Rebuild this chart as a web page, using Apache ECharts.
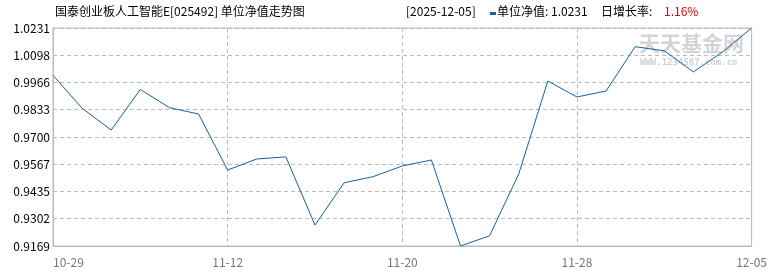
<!DOCTYPE html>
<html><head><meta charset="utf-8">
<script src="https://cdn.jsdelivr.net/npm/echarts@6/dist/echarts.min.js"></script>
<style>html,body{margin:0;padding:0;background:#fff}#c{width:770px;height:270px}</style>
</head><body><div id="c"></div>
<script>
var dates = ['10-29','11-05','11-06','11-07','11-10','11-11','11-12','11-13','11-14','11-17','11-18','11-19','11-20','11-21','11-24','11-25','11-26','11-27','11-28','11-30','12-01','12-02','12-03','12-04','12-05'];
var navs = [1.0000,0.9840,0.9734,0.9932,0.9843,0.9812,0.9539,0.9593,0.9603,0.9271,0.9477,0.9507,0.9559,0.9588,0.9169,0.9219,0.9520,0.9973,0.9895,0.9924,1.0140,1.0120,1.0017,1.0114,1.0231];
var yTicks = [0.9169,0.9302,0.9435,0.9567,0.9700,0.9833,0.9966,1.0098,1.0231];
var titleText = '国泰创业板人工智能E[025492] 单位净值走势图';
var dateText = '[2025-12-05]';
var navText = '单位净值: 1.0231';
var rateLabel = '日增长率:';
var rateText = '1.16%';

var F = '"Noto Sans CJK SC", "DejaVu Sans", sans-serif';
var chart = echarts.init(document.getElementById('c'));
chart.setOption({
  animation: false,
  grid: {left: 53, right: 12, top: 28, bottom: 24, show: true, borderColor: '#bbbbbb', borderWidth: 1},
  xAxis: {
    type: 'category', data: dates, boundaryGap: false,
    axisLine: {lineStyle: {color: '#bbbbbb'}},
    axisTick: {show: false},
    axisLabel: {interval: 5, color: '#777777', fontSize: 12, fontFamily: F, margin: 10,
      alignMinLabel: 'left', alignMaxLabel: 'center'},
    splitLine: {show: true, interval: 5, lineStyle: {color: '#bbbbbb', type: [4, 3]}}
  },
  yAxis: {
    type: 'value', min: yTicks[0], max: yTicks[yTicks.length - 1],
    axisLine: {show: true, lineStyle: {color: '#bbbbbb'}},
    axisTick: {show: false, customValues: yTicks},
    axisLabel: {customValues: yTicks, color: '#000000', fontSize: 12, fontFamily: F, margin: 3,
      formatter: function (v) { return v.toFixed(4); }},
    splitLine: {show: true, lineStyle: {color: '#bbbbbb', type: [4, 3]}}
  },
  series: [{
    type: 'line', data: navs, showSymbol: false, symbol: 'none',
    lineStyle: {color: '#1560ad', width: 1}
  }],
  graphic: [
    {type: 'text', left: 55, top: 5, style: {text: titleText, fill: '#000', font: '12px ' + F}},
    {type: 'text', left: 406, top: 5, style: {text: dateText, fill: '#000', font: '12px ' + F}},
    {type: 'rect', shape: {x: 490, y: 12, width: 6, height: 3}, style: {fill: '#1560ad'}},
    {type: 'text', left: 497, top: 5, style: {text: navText, fill: '#000', font: '12px ' + F}},
    {type: 'text', left: 601, top: 5, style: {text: rateLabel, fill: '#000', font: '12px ' + F}},
    {type: 'text', left: 664, top: 5, style: {text: rateText, fill: '#e00000', font: '12px ' + F}},
    {type: 'text', left: 639, top: 33, z: -1, style: {text: '天天基金网', fill: '#d4d4d4', font: 'bold 21px ' + F}},
    {type: 'text', left: 640, top: 58, z: -1, style: {text: 'WWW.1234567.com.cn', fill: '#d0d0d0', font: 'bold 9px "DejaVu Sans Mono", monospace'}}
  ]
});
</script></body></html>
